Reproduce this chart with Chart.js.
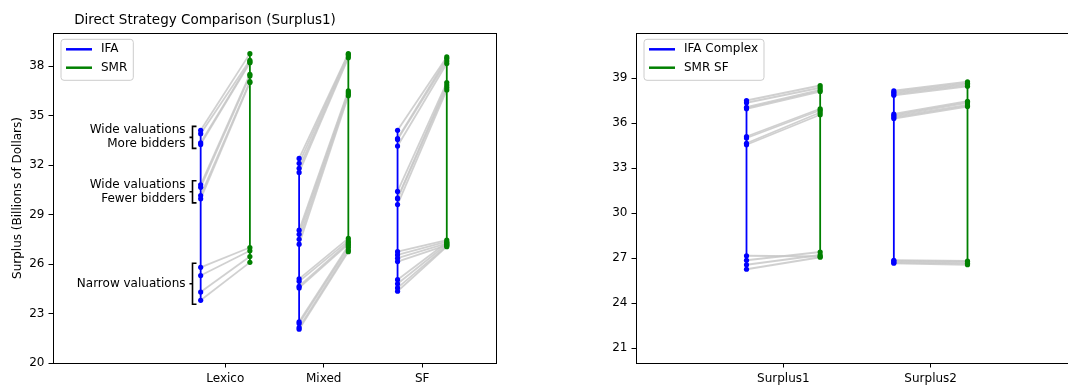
<!DOCTYPE html>
<html><head><meta charset="utf-8">
<script src="https://cdn.jsdelivr.net/npm/chart.js@4/dist/chart.umd.min.js"></script>
<style>
html,body{margin:0;padding:0;background:#fff;width:1068px;height:386px;overflow:hidden;position:relative}
#c1{position:absolute;left:0;top:0}
#c2{position:absolute;left:582px;top:0}
</style></head><body>
<canvas id="c1" width="500" height="386"></canvas>
<canvas id="c2" width="500" height="386"></canvas>
<script>
// ---------- Left panel data ----------
const leftTitle = 'Direct Strategy Comparison (Surplus1)';
const leftYLabel = 'Surplus (Billions of Dollars)';
const leftCategories = ['Lexico', 'Mixed', 'SF'];
const leftYTicks = [20, 23, 26, 29, 32, 35, 38];
const leftSeriesNames = ['IFA', 'SMR'];
const lexicoIFA = [34.1, 33.9, 33.35, 33.25, 30.8, 30.65, 30.15, 29.95, 25.8, 25.3, 24.3, 23.8];
const lexicoSMR = [38.75, 38.35, 38.25, 38.2, 37.5, 37.4, 37.05, 37.0, 27.0, 26.8, 26.45, 26.1];
const mixedIFA = [32.4, 32.1, 31.8, 31.55, 28.05, 27.8, 27.5, 27.2, 25.1, 24.95, 24.65, 24.55, 22.5, 22.4, 22.15, 22.05];
const mixedSMR = [38.75, 38.7, 38.6, 38.5, 36.5, 36.4, 36.3, 36.2, 27.55, 27.4, 27.3, 27.2, 27.1, 27.0, 26.85, 26.75];
const sfIFA = [34.1, 33.6, 33.55, 33.15, 30.4, 30.0, 29.95, 29.6, 26.75, 26.55, 26.35, 26.15, 25.05, 24.8, 24.55, 24.35];
const sfSMR = [38.55, 38.45, 38.3, 38.15, 37.0, 36.85, 36.7, 36.55, 27.45, 27.35, 27.25, 27.15, 27.3, 27.2, 27.1, 27.05];
const annotationLabels = [['Wide valuations', 'More bidders'], ['Wide valuations', 'Fewer bidders'], ['Narrow valuations']];
const annotationGroups = [[0, 4], [4, 8], [8, 12]]; // index ranges into lexicoIFA

// ---------- Right panel data ----------
const rightCategories = ['Surplus1', 'Surplus2'];
const rightYTicks = [21, 24, 27, 30, 33, 36, 39];
const rightSeriesNames = ['IFA Complex', 'SMR SF'];
const surplus1IFA = [37.5, 37.35, 37.05, 36.95, 35.1, 35.0, 34.65, 34.55, 27.15, 26.85, 26.55, 26.25];
const surplus1SMR = [38.5, 38.35, 38.2, 38.1, 36.95, 36.85, 36.7, 36.55, 27.1, 27.4, 27.2, 27.05];
const surplus2IFA = [38.15, 38.05, 37.95, 37.85, 36.6, 36.5, 36.4, 36.3, 26.85, 26.8, 26.7, 26.65];
const surplus2SMR = [38.75, 38.65, 38.55, 38.45, 37.45, 37.35, 37.2, 37.1, 26.8, 26.75, 26.65, 26.55];

// ---------- Styles ----------
const FONT = "'DejaVu Sans', sans-serif";
const BLUE = '#0000ff', GREEN = '#008000', GREY = 'rgba(200,200,200,0.85)';
const OFF = 0.25;

function buildDatasets(pairs) {
  const ds = [];
  pairs.forEach(([ifa, smr], c) => {
    ifa.forEach((v, i) => ds.push({
      data: [{x: c - OFF, y: v}, {x: c + OFF, y: smr[i]}],
      showLine: true, borderColor: GREY, borderWidth: 1.8, pointRadius: 0, order: 10
    }));
  });
  pairs.forEach(([ifa, smr], c) => {
    ds.push({data: [{x: c - OFF, y: Math.min(...ifa)}, {x: c - OFF, y: Math.max(...ifa)}],
      showLine: true, borderColor: BLUE, borderWidth: 1.8, pointRadius: 0, order: 5});
    ds.push({data: [{x: c + OFF, y: Math.min(...smr)}, {x: c + OFF, y: Math.max(...smr)}],
      showLine: true, borderColor: GREEN, borderWidth: 1.8, pointRadius: 0, order: 5});
  });
  ds.push({data: pairs.flatMap(([ifa], c) => ifa.map(v => ({x: c - OFF, y: v}))),
    pointRadius: 2.6, pointBackgroundColor: BLUE, pointBorderWidth: 0, showLine: false, order: 1});
  ds.push({data: pairs.flatMap(([, smr], c) => smr.map(v => ({x: c + OFF, y: v}))),
    pointRadius: 2.6, pointBackgroundColor: GREEN, pointBorderWidth: 0, showLine: false, order: 1});
  return ds;
}

const framePlugin = {
  id: 'frame',
  afterDraw(chart) {
    const {ctx, chartArea: a} = chart;
    ctx.save();
    ctx.strokeStyle = '#000'; ctx.lineWidth = 1;
    ctx.strokeRect(Math.round(a.left) + 0.5, Math.round(a.top) + 0.5, Math.round(a.right - a.left), Math.round(a.bottom - a.top));
    ctx.restore();
  }
};

function titlePlugin(text) {
  return {
    id: 'ttl',
    afterDraw(chart) {
      const {ctx} = chart;
      ctx.save();
      ctx.font = `13.5px ${FONT}`; ctx.fillStyle = '#000';
      ctx.textAlign = 'center'; ctx.textBaseline = 'middle';
      ctx.fillText(text, 205, 20);
      ctx.restore();
    }
  };
}

function legendPlugin(names) {
  return {
    id: 'lgd',
    afterDraw(chart) {
      const {ctx, chartArea: a} = chart;
      ctx.save();
      ctx.font = `12px ${FONT}`;
      const tw = Math.max(...names.map(n => ctx.measureText(n).width));
      const x0 = a.left + 8, y0 = a.top + 6.3, w = 40 + tw + 6, h = 41, r = 3;
      ctx.beginPath();
      ctx.moveTo(x0 + r, y0); ctx.lineTo(x0 + w - r, y0); ctx.quadraticCurveTo(x0 + w, y0, x0 + w, y0 + r);
      ctx.lineTo(x0 + w, y0 + h - r); ctx.quadraticCurveTo(x0 + w, y0 + h, x0 + w - r, y0 + h);
      ctx.lineTo(x0 + r, y0 + h); ctx.quadraticCurveTo(x0, y0 + h, x0, y0 + h - r);
      ctx.lineTo(x0, y0 + r); ctx.quadraticCurveTo(x0, y0, x0 + r, y0);
      ctx.fillStyle = 'rgba(255,255,255,0.8)'; ctx.fill();
      ctx.strokeStyle = '#cccccc'; ctx.lineWidth = 1; ctx.stroke();
      const cols = [BLUE, GREEN];
      names.forEach((n, i) => {
        const yy = y0 + 10 + i * 18.4;
        ctx.strokeStyle = cols[i]; ctx.lineWidth = 2.5;
        ctx.beginPath(); ctx.moveTo(x0 + 5, yy); ctx.lineTo(x0 + 31, yy); ctx.stroke();
        ctx.fillStyle = '#000'; ctx.textAlign = 'left'; ctx.textBaseline = 'middle';
        ctx.fillText(n, x0 + 40, yy);
      });
      ctx.restore();
    }
  };
}

const bracketPlugin = {
  id: 'brackets',
  afterDraw(chart) {
    const {ctx, scales: {x, y}} = chart;
    const bx = Math.round(x.getPixelForValue(-OFF)) - 8.5;
    ctx.save();
    ctx.strokeStyle = '#000'; ctx.lineWidth = 1.6;
    ctx.font = `12px ${FONT}`; ctx.fillStyle = '#000';
    ctx.textAlign = 'right'; ctx.textBaseline = 'middle';
    annotationGroups.forEach(([a, b], k) => {
      const vals = lexicoIFA.slice(a, b);
      const top = y.getPixelForValue(Math.max(...vals)) - 4;
      const bot = y.getPixelForValue(Math.min(...vals)) + 4;
      const mid = (top + bot) / 2;
      ctx.beginPath();
      ctx.moveTo(bx + 4, top); ctx.lineTo(bx, top); ctx.lineTo(bx, bot); ctx.lineTo(bx + 4, bot);
      ctx.moveTo(bx, mid); ctx.lineTo(bx - 3, mid);
      ctx.stroke();
      const lines = annotationLabels[k];
      lines.forEach((t, j) => ctx.fillText(t, bx - 7, mid + (j - (lines.length - 1) / 2) * 14));
    });
    ctx.restore();
  }
};

function makeConfig(cfg) {
  return {
    type: 'scatter',
    data: {datasets: buildDatasets(cfg.pairs)},
    options: {
      responsive: false, animation: false, devicePixelRatio: 1,
      layout: {padding: cfg.padding},
      plugins: {legend: {display: false}, tooltip: {enabled: false}, title: {display: false}},
      scales: {
        x: {
          type: 'linear', min: cfg.xmin, max: cfg.xmax,
          afterBuildTicks: s => { s.ticks = cfg.categories.map((_, i) => ({value: i})); },
          afterFit: s => { s.height = 23; },
          ticks: {callback: v => cfg.categories[Math.round(v)], color: '#000',
            font: {family: FONT, size: 12}, padding: 4, autoSkip: false, maxRotation: 0},
          grid: {drawOnChartArea: false, drawTicks: true, tickLength: 4.5, color: '#000', tickColor: '#000'},
          border: {display: false}
        },
        y: {
          type: 'linear', min: cfg.ymin, max: cfg.ymax,
          afterBuildTicks: s => { s.ticks = cfg.yTicks.map(v => ({value: v})); },
          afterFit: s => { s.width = cfg.yWidth; },
          ticks: {color: '#000', font: {family: FONT, size: 12}, padding: 4},
          grid: {drawOnChartArea: false, drawTicks: true, tickLength: 4.5, color: '#000', tickColor: '#000'},
          border: {display: false},
          title: cfg.yLabel ? {display: true, text: cfg.yLabel, color: '#000',
            font: {family: FONT, size: 12}, padding: {top: 4, bottom: 0}} : {display: false}
        }
      }
    },
    plugins: cfg.plugins
  };
}

new Chart(document.getElementById('c1'), makeConfig({
  pairs: [[lexicoIFA, lexicoSMR], [mixedIFA, mixedSMR], [sfIFA, sfSMR]],
  categories: leftCategories, yTicks: leftYTicks, yLabel: leftYLabel,
  xmin: -1.75, xmax: 2.75, ymin: 20, ymax: 40, yWidth: 46,
  padding: {left: 7, right: 3, top: 33, bottom: 0},
  plugins: [framePlugin, titlePlugin(leftTitle), legendPlugin(leftSeriesNames), bracketPlugin]
}));

new Chart(document.getElementById('c2'), makeConfig({
  pairs: [[surplus1IFA, surplus1SMR], [surplus2IFA, surplus2SMR]],
  categories: rightCategories, yTicks: rightYTicks, yLabel: null,
  xmin: -1, xmax: 2, ymin: 20, ymax: 42, yWidth: 47,
  padding: {left: 7, right: 2, top: 33, bottom: 0},
  plugins: [framePlugin, legendPlugin(rightSeriesNames)]
}));
</script>
</body></html>
